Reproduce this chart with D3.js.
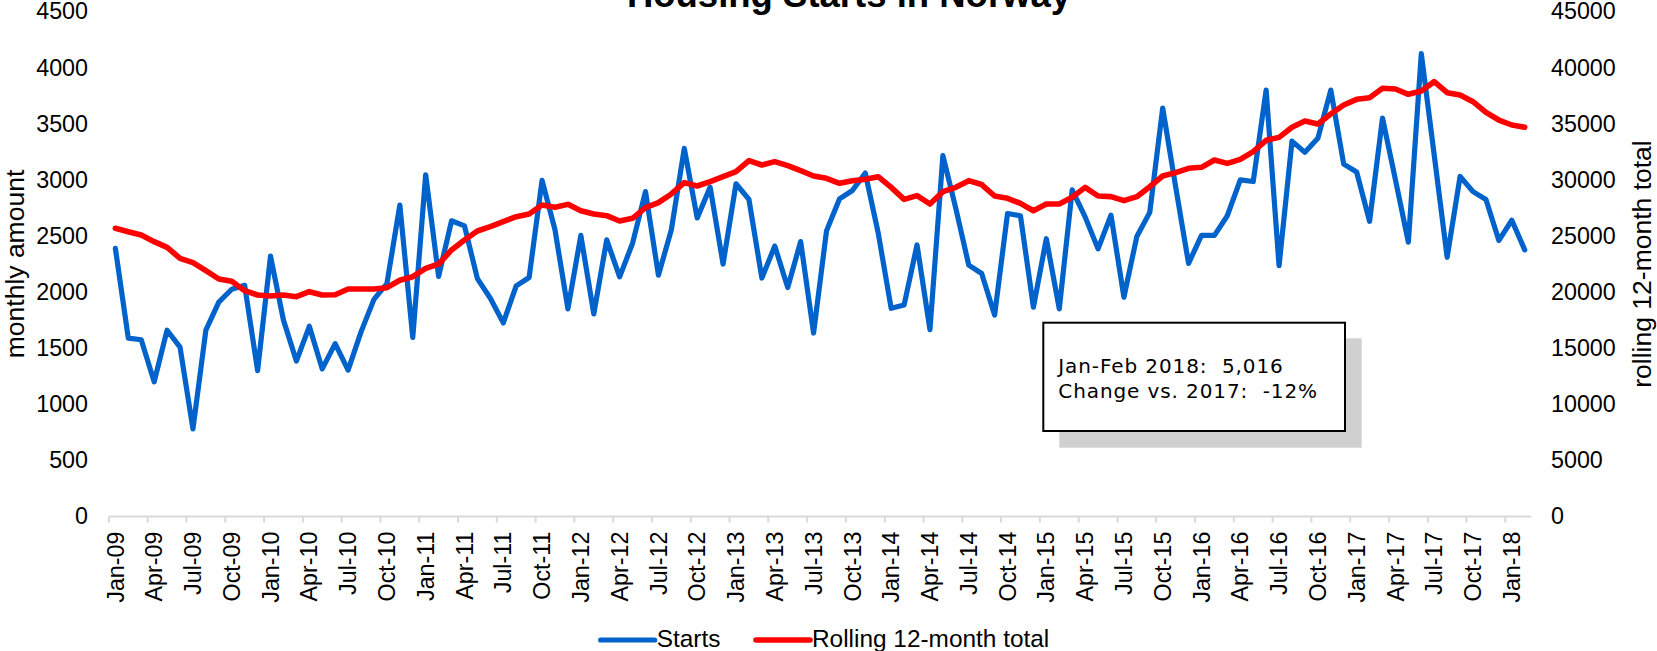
<!DOCTYPE html>
<html>
<head>
<meta charset="utf-8">
<script src="https://cdn.jsdelivr.net/npm/d3@7"></script>
<style>
  html, body { margin: 0; padding: 0; background: #fff; }
  svg { display: block; }
  text { font-family: "Liberation Sans", Arial, sans-serif; fill: #000; }
</style>
</head>
<body>
<svg id="chart" width="1657" height="651"></svg>
<script>
// Monthly categories Jan-09 .. Feb-18
const categories = d3.timeMonth
  .range(new Date(2009, 0, 1), new Date(2018, 2, 1))
  .map(d3.timeFormat("%b-%y"));

// Housing starts per month (left axis)
const starts = [
  2390, 1590, 1575, 1200, 1660, 1510, 780, 1660, 1910, 2025,
  2060, 1300, 2320, 1750, 1385, 1695, 1315, 1540, 1305, 1645,
  1935, 2075, 2775, 1595, 3045, 2140, 2635, 2590, 2120, 1945,
  1725, 2055, 2130, 2995, 2555, 1850, 2505, 1805, 2465, 2135,
  2435, 2895, 2150, 2555, 3280, 2660, 2935, 2250, 2965, 2825,
  2125, 2410, 2040, 2450, 1635, 2545, 2830, 2905, 3060, 2525,
  1855, 1885, 2420, 1665, 3215, 2745, 2240, 2165, 1795, 2700,
  2680, 1865, 2475, 1850, 2910, 2670, 2385, 2685, 1955, 2495,
  2710, 3640, 2940, 2255, 2505, 2505, 2680, 3000, 2985, 3800,
  2235, 3345, 3245, 3370, 3800, 3140, 3070, 2630, 3550, 3000,
  2445, 4125, 3220, 2310, 3030, 2895, 2825, 2460, 2640, 2376
];

// Rolling 12-month total (right axis)
const rolling = [
  25680, 25380, 25080, 24490, 23985, 23005, 22620, 21905, 21165, 20955,
  20125, 19740, 19650, 19740, 19590, 20035, 19740, 19760, 20270, 20270,
  20270, 20390, 21050, 21370, 22115, 22500, 23750, 24640, 25440, 25825,
  26270, 26715, 26955, 27760, 27550, 27815, 27250, 26955, 26805, 26330,
  26570, 27520, 27965, 28740, 29750, 29450, 29835, 30280, 30730, 31710,
  31320, 31620, 31265, 30815, 30340, 30135, 29690, 29925, 30045, 30280,
  29330, 28260, 28590, 27845, 28945, 29330, 29925, 29580, 28560, 28350,
  27905, 27250, 27845, 27845, 28440, 29330, 28560, 28500, 28145, 28500,
  29390, 30340, 30640, 31025, 31115, 31770, 31470, 31825, 32510, 33520,
  33785, 34680, 35245, 34975, 35865, 36670, 37175, 37320, 38155, 38095,
  37620, 37915, 38750, 37765, 37560, 36965, 36015, 35330, 34885, 34680
];

const leftTicks = d3.range(0, 4501, 500);
const rightTicks = d3.range(0, 45001, 5000);
const seriesNames = ["Starts", "Rolling 12-month total"];
const noteLines = ["Jan-Feb 2018:  5,016", "Change vs. 2017:  -12%"];

const colors = { starts: "#0063CC", rolling: "#FF0000" };

const svg = d3.select("#chart");
const plot = { left: 108.9, right: 1531.2, top: 11.5, bottom: 516.5 };

const x = d3.scaleBand().domain(categories).range([plot.left, plot.right]).padding(0);
const cx = c => x(c) + x.bandwidth() / 2;
const yL = d3.scaleLinear().domain([0, 4500]).range([plot.bottom, plot.top]);
const yR = d3.scaleLinear().domain([0, 45000]).range([plot.bottom, plot.top]);

// Title (sits partly above the frame)
svg.append("text")
  .attr("x", 849).attr("y", 7)
  .attr("text-anchor", "middle")
  .style("font-size", "36.5px").style("font-weight", "bold")
  .text("Housing Starts in Norway");

// Category axis: light line with ticks between every third month
const xAxis = svg.append("g");
xAxis.append("line")
  .attr("x1", plot.left).attr("x2", plot.right)
  .attr("y1", plot.bottom).attr("y2", plot.bottom)
  .attr("stroke", "#d9d9d9").attr("stroke-width", 2);
const tickCats = categories.filter((c, i) => i % 3 === 0);
xAxis.selectAll("line.tick").data(tickCats).join("line")
  .attr("class", "tick")
  .attr("x1", d => x(d)).attr("x2", d => x(d))
  .attr("y1", plot.bottom).attr("y2", plot.bottom + 6)
  .attr("stroke", "#d9d9d9").attr("stroke-width", 2);
xAxis.selectAll("text").data(tickCats).join("text")
  .attr("transform", d => `translate(${cx(d)},${plot.bottom + 15}) rotate(-90)`)
  .attr("text-anchor", "end")
  .attr("dy", "0.35em")
  .style("font-size", "23.3px")
  .text(d => d);

// Value axes
const gl = svg.append("g").attr("transform", `translate(88,0)`)
  .call(d3.axisLeft(yL).tickValues(leftTicks).tickSize(0).tickPadding(0).tickFormat(d3.format("d")));
const gr = svg.append("g").attr("transform", `translate(1551,0)`)
  .call(d3.axisRight(yR).tickValues(rightTicks).tickSize(0).tickPadding(0).tickFormat(d3.format("d")));
[gl, gr].forEach(g => {
  g.select(".domain").remove();
  g.attr("font-family", null).attr("font-size", null);
  g.selectAll("text").style("font-size", "23.3px")
    .style("font-family", "'Liberation Sans', Arial, sans-serif").attr("fill", "#000");
});

// Axis titles
svg.append("text")
  .attr("transform", `translate(24,${(plot.top + plot.bottom) / 2}) rotate(-90)`)
  .attr("text-anchor", "middle")
  .style("font-size", "26.5px")
  .text("monthly amount");
svg.append("text")
  .attr("transform", `translate(1651,${(plot.top + plot.bottom) / 2}) rotate(-90)`)
  .attr("text-anchor", "middle")
  .style("font-size", "26.5px")
  .text("rolling 12-month total");

// Series lines
const lineL = d3.line().x((d, i) => cx(categories[i])).y(d => yL(d));
const lineR = d3.line().x((d, i) => cx(categories[i])).y(d => yR(d));
svg.append("path").datum(starts)
  .attr("d", lineL).attr("fill", "none")
  .attr("stroke", colors.starts).attr("stroke-width", 5.2)
  .attr("stroke-linejoin", "round").attr("stroke-linecap", "round");
svg.append("path").datum(rolling)
  .attr("d", lineR).attr("fill", "none")
  .attr("stroke", colors.rolling).attr("stroke-width", 5.6)
  .attr("stroke-linejoin", "round").attr("stroke-linecap", "round");

// Note box with drop shadow
const note = svg.append("g");
note.append("rect")
  .attr("x", 1059.3).attr("y", 338.3).attr("width", 302.4).attr("height", 109.4)
  .attr("fill", "#d0d0d0");
note.append("rect")
  .attr("x", 1043.3).attr("y", 322.7).attr("width", 301.7).attr("height", 108.3)
  .attr("fill", "#fff").attr("stroke", "#000").attr("stroke-width", 2);
note.selectAll("text").data(noteLines).join("text")
  .attr("x", 1058.3).attr("y", (d, i) => 373.3 + i * 25)
  .style("font-family", "'DejaVu Sans', Verdana, sans-serif")
  .style("font-size", "20px").style("letter-spacing", "0.9px")
  .style("white-space", "pre").attr("fill", "#222")
  .text(d => d);

// Legend
const legendItems = [
  { name: seriesNames[0], color: colors.starts, x0: 600.7, w: 5.2 },
  { name: seriesNames[1], color: colors.rolling, x0: 756, w: 5.6 }
];
const lg = svg.append("g");
legendItems.forEach(it => {
  lg.append("line")
    .attr("x1", it.x0).attr("x2", it.x0 + 54)
    .attr("y1", 640).attr("y2", 640)
    .attr("stroke", it.color).attr("stroke-width", it.w).attr("stroke-linecap", "round");
  lg.append("text")
    .attr("x", it.x0 + 56).attr("y", 646.5)
    .style("font-size", "24.4px")
    .text(it.name);
});
</script>
</body>
</html>
